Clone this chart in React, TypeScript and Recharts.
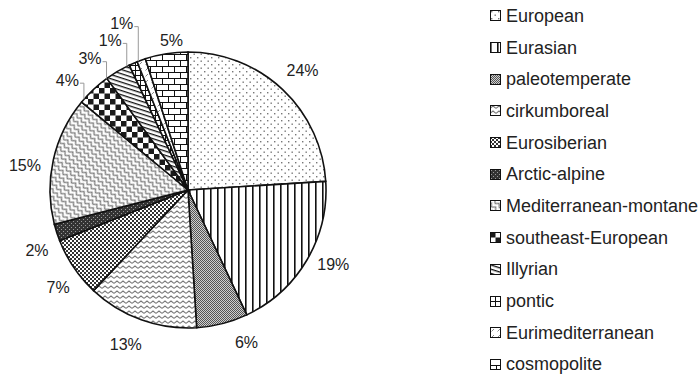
import React from 'react';
import { PieChart, Pie, Cell, Legend } from 'recharts';

const categories = [
  'European',
  'Eurasian',
  'paleotemperate',
  'cirkumboreal',
  'Eurosiberian',
  'Arctic-alpine',
  'Mediterranean-montane',
  'southeast-European',
  'Illyrian',
  'pontic',
  'Eurimediterranean',
  'cosmopolite',
];

const shares = [24, 19, 6, 13, 7, 2, 15, 4, 3, 1, 1, 5];

const data = categories.map((name, i) => ({ name, value: shares[i] }));

// label placement tweaks around the default ring position
const labelNudge: [number, number][] = [
  [3, -1], [5, -8], [18, -5], [-7, 1], [5, 6], [4, 10],
  [-4, 11], [-9, 9], [-15, 9], [-13, 0], [-11, -13], [9, 11],
];
// crowded slices get a leader line from the label down to the rim
const withLeader = new Set([7, 8, 9, 10]);

const CX = 188;
const CY = 190;
const R = 138;
const FONT = '"Liberation Sans", Arial, sans-serif';

const Patterns = () => (
  <defs>
    <pattern id="pat0" width="7" height="7" patternUnits="userSpaceOnUse">
      <rect width="7" height="7" fill="#fff" />
      <rect x="1" y="1" width="1.4" height="1.4" fill="#777" />
      <rect x="4.5" y="4.5" width="1.4" height="1.4" fill="#777" />
    </pattern>
    <pattern id="pat1" width="7" height="7" patternUnits="userSpaceOnUse">
      <rect width="7" height="7" fill="#fff" />
      <rect x="0" y="0" width="1.6" height="7" fill="#111" />
    </pattern>
    <pattern id="pat2" width="2" height="2" patternUnits="userSpaceOnUse">
      <rect width="2" height="2" fill="#cfcfcf" />
      <rect x="0" y="0" width="1" height="1" fill="#555" />
      <rect x="1" y="1" width="1" height="1" fill="#555" />
    </pattern>
    <pattern id="pat3" width="6" height="5" patternUnits="userSpaceOnUse">
      <rect width="6" height="5" fill="#fff" />
      <path d="M0 3.4 L3 1 L6 3.4" fill="none" stroke="#777" strokeWidth="1.1" />
    </pattern>
    <pattern id="pat4" width="4" height="4" patternUnits="userSpaceOnUse">
      <rect width="4" height="4" fill="#fff" />
      <rect x="0" y="0" width="2" height="2" fill="#333" />
      <rect x="2" y="2" width="2" height="2" fill="#333" />
    </pattern>
    <pattern id="pat5" width="4" height="4" patternUnits="userSpaceOnUse">
      <rect width="4" height="4" fill="#333" />
      <rect x="1" y="1" width="1" height="1" fill="#999" />
      <rect x="3" y="3" width="1" height="1" fill="#999" />
    </pattern>
    <pattern id="pat6" width="6" height="5" patternUnits="userSpaceOnUse" patternTransform="rotate(45)">
      <rect width="6" height="5" fill="#fff" />
      <path d="M0 4 L3 1 L6 4" fill="none" stroke="#808080" strokeWidth="1.3" />
    </pattern>
    <pattern id="pat7" width="11" height="11" patternUnits="userSpaceOnUse">
      <rect width="11" height="11" fill="#fff" />
      <rect x="0" y="0" width="5.5" height="5.5" fill="#1a1a1a" />
      <rect x="5.5" y="5.5" width="5.5" height="5.5" fill="#1a1a1a" />
    </pattern>
    <pattern id="pat8" width="4" height="4" patternUnits="userSpaceOnUse" patternTransform="rotate(18)">
      <rect width="4" height="4" fill="#fff" />
      <rect x="0" y="0" width="4" height="1.3" fill="#111" />
    </pattern>
    <pattern id="pat9" width="5" height="5" patternUnits="userSpaceOnUse">
      <rect width="5" height="5" fill="#fff" />
      <rect x="0" y="0" width="5" height="1" fill="#111" />
      <rect x="0" y="0" width="1" height="5" fill="#111" />
    </pattern>
    <pattern id="pat10" width="6" height="6" patternUnits="userSpaceOnUse">
      <rect width="6" height="6" fill="#fff" />
      <path d="M1.5 4.5 L4 2" stroke="#888" strokeWidth="1" />
    </pattern>
    <pattern id="pat11" width="12" height="12" patternUnits="userSpaceOnUse">
      <rect width="12" height="12" fill="#fff" />
      <path d="M0 0.5 H12 M0 6.5 H12 M0.5 0 V6.5 M6.5 6.5 V12" stroke="#111" strokeWidth="1" fill="none" />
    </pattern>
  </defs>
);

const renderLabel = (props: any) => {
  const { midAngle, index, value } = props;
  const rad = (midAngle * Math.PI) / 180;
  const r = R + 25;
  const [nx, ny] = labelNudge[index];
  const x = CX + r * Math.cos(rad) + nx;
  const y = CY - r * Math.sin(rad) + ny;
  const text = `${value}%`;
  const halfW = (text.length === 2 ? 23 : 32) / 2;
  let leader = null;
  if (withLeader.has(index)) {
    const lx = x + halfW + 5;
    const ly = y + 3;
    const rimY = CY - Math.sqrt(R * R - (lx - CX) * (lx - CX));
    leader = (
      <polyline
        points={`${x + halfW + 1},${ly} ${lx},${ly} ${lx},${rimY}`}
        fill="none"
        stroke="#999"
        strokeWidth={1}
      />
    );
  }
  return (
    <g key={`lbl-${index}`}>
      {leader}
      <text
        x={x}
        y={y}
        textAnchor="middle"
        dominantBaseline="central"
        fontSize={16}
        fontFamily={FONT}
        fill="#222"
      >
        {text}
      </text>
    </g>
  );
};

const LegendList = () => (
  <div style={{ fontFamily: FONT, fontSize: 18, color: '#222' }}>
    {categories.map((name, i) => (
      <div key={name} style={{ height: 31.7, display: 'flex', alignItems: 'center', whiteSpace: 'nowrap' }}>
        <svg width={11} height={11} style={{ marginRight: 5, flexShrink: 0 }}>
          <rect x={0.5} y={0.5} width={10} height={10} fill={`url(#pat${i})`} stroke="#111" strokeWidth={1} />
        </svg>
        <span style={{ lineHeight: '18px' }}>{name}</span>
      </div>
    ))}
  </div>
);

export default function App() {
  return (
    <div style={{ position: 'absolute', left: 0, top: 0, width: 699, height: 375, background: '#fff' }}>
      <PieChart width={699} height={375} margin={{ top: 0, right: 0, bottom: 0, left: 0 }}>
        <Patterns />
        <Pie
          data={data}
          dataKey="value"
          nameKey="name"
          cx={CX}
          cy={CY}
          outerRadius={R}
          startAngle={90}
          endAngle={-270}
          stroke="#111"
          strokeWidth={1.6}
          label={renderLabel}
          labelLine={false}
          isAnimationActive={false}
        >
          {data.map((d, i) => (
            <Cell key={d.name} fill={`url(#pat${i})`} />
          ))}
        </Pie>
        <Legend
          layout="vertical"
          align="right"
          verticalAlign="top"
          content={() => <LegendList />}
          wrapperStyle={{ left: 490, top: 0, width: 209, right: 'auto' }}
        />
      </PieChart>
    </div>
  );
}
